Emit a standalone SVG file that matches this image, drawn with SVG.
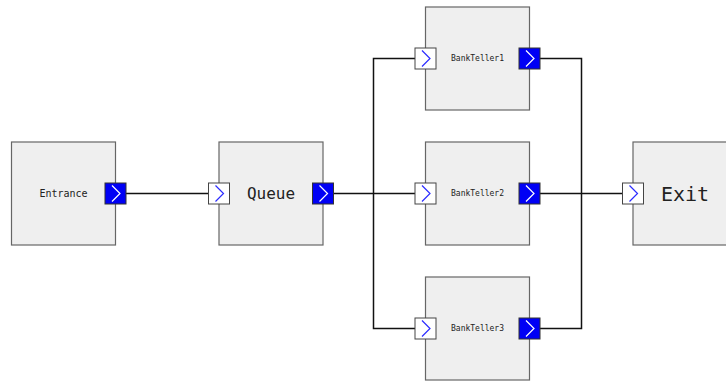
<svg xmlns="http://www.w3.org/2000/svg" width="726" height="383" viewBox="0 0 726 383">
<defs>
<style>
.box{fill:#efefef;stroke:#666;stroke-width:1.2}
.lbl{font-family:"DejaVu Sans Mono",monospace;fill:#222;text-anchor:middle;dominant-baseline:central}
.pin{fill:#fff;stroke:#444;stroke-width:1}
.pout{fill:#0000f5;stroke:#333;stroke-width:1}
.chin{fill:none;stroke:#2b2bff;stroke-width:1.2}
.chout{fill:none;stroke:#fff;stroke-width:1.2}
.wire{fill:none;stroke:#111;stroke-width:1.5}
</style>
<g id="inport"><rect class="pin" x="-10.5" y="-10.5" width="21" height="21"/><path class="chin" d="M-3.5,-8 L4.5,0 L-3.5,8"/></g>
<g id="outport"><rect class="pout" x="-10.5" y="-10.5" width="21" height="21"/><path class="chout" d="M-3.5,-8 L4.5,0 L-3.5,8"/></g>
</defs>
<rect width="726" height="383" fill="#fff"/>
<g id="connectors">
<path class="wire" d="M126,193.5 H208"/>
<path class="wire" d="M333,193.5 H415"/>
<path class="wire" d="M373.5,193.5 V58.5 H415"/>
<path class="wire" d="M373.5,193.5 V328.5 H415"/>
<path class="wire" d="M540,58.5 H581.5 V193.5"/>
<path class="wire" d="M540,328.5 H581.5 V193.5"/>
<path class="wire" d="M540,193.5 H622.5"/>
</g>
<g id="Entrance">
<rect class="box" x="11.5" y="142" width="104" height="103"/>
<text class="lbl" x="63.5" y="193.5" font-size="10">Entrance</text>
<use href="#outport" x="115.5" y="193.5"/>
</g>
<g id="Queue">
<rect class="box" x="219" y="142" width="104" height="103"/>
<text class="lbl" x="271" y="193.5" font-size="16">Queue</text>
<use href="#inport" x="219" y="193.5"/>
<use href="#outport" x="323" y="193.5"/>
</g>
<g id="BankTeller1">
<rect class="box" x="425.5" y="7" width="104" height="103"/>
<text class="lbl" x="477.5" y="58.5" font-size="8">BankTeller1</text>
<use href="#inport" x="425.5" y="58.5"/>
<use href="#outport" x="529.5" y="58.5"/>
</g>
<g id="BankTeller2">
<rect class="box" x="425.5" y="142" width="104" height="103"/>
<text class="lbl" x="477.5" y="193.5" font-size="8">BankTeller2</text>
<use href="#inport" x="425.5" y="193.5"/>
<use href="#outport" x="529.5" y="193.5"/>
</g>
<g id="BankTeller3">
<rect class="box" x="425.5" y="277" width="104" height="103"/>
<text class="lbl" x="477.5" y="328.5" font-size="8">BankTeller3</text>
<use href="#inport" x="425.5" y="328.5"/>
<use href="#outport" x="529.5" y="328.5"/>
</g>
<g id="Exit">
<rect class="box" x="633" y="142" width="104" height="103"/>
<text class="lbl" x="685" y="193.5" font-size="20">Exit</text>
<use href="#inport" x="633" y="193.5"/>
</g>
</svg>
